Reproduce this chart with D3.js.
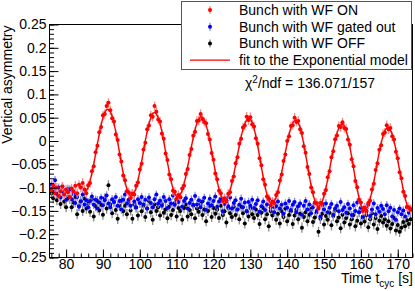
<!DOCTYPE html>
<html><head><meta charset="utf-8">
<script src="https://cdn.jsdelivr.net/npm/d3@7"></script>
<style>
body{margin:0;background:#fff}
svg{display:block}
text{font-family:"Liberation Sans",Arial,Helvetica,sans-serif;fill:#000}
</style>
</head><body>
<svg id="c" width="415" height="291"></svg>
<script>
// ---- data ----
const tStart = 76.0, tStep = 0.5;      // time grid of the measured points [s]
const fitStart = 85.0, fitStep = 0.5;  // sampling of the fitted curve [s]

const seriesNames = ["Bunch with WF ON", "Bunch with WF gated out", "Bunch with WF OFF", "fit to the Exponential model"];
const fitLabel = "136.071/157";

const redValues = [
 -0.105,-0.095,-0.112,-0.100,-0.118,-0.108,-0.098,-0.115,-0.104,-0.110,
 -0.120,-0.102,-0.108,-0.096,-0.112,-0.094,-0.100,-0.090,
 -0.104,-0.112,-0.095,-0.090,-0.065,-0.054,-0.024,-0.010,0.019,0.030,
 0.055,0.058,0.075,0.082,0.066,0.049,0.042,0.014,0.002,-0.029,
 -0.044,-0.074,-0.084,-0.108,-0.110,-0.123,-0.113,-0.115,-0.096,-0.089,
 -0.061,-0.049,-0.018,-0.004,0.025,0.033,0.055,0.052,0.075,0.063,
 0.046,0.042,0.016,0.005,-0.027,-0.041,-0.072,-0.082,-0.107,-0.109,
 -0.124,-0.116,-0.120,-0.102,-0.096,-0.071,-0.060,-0.030,-0.017,0.011,
 0.020,0.043,0.044,0.058,0.047,0.041,0.038,0.015,0.003,-0.026,
 -0.040,-0.070,-0.082,-0.107,-0.112,-0.129,-0.123,-0.130,-0.113,-0.110,
 -0.086,-0.076,-0.048,-0.035,-0.006,0.005,0.029,0.033,0.052,0.045,
 0.051,0.036,0.031,0.006,-0.006,-0.037,-0.052,-0.082,-0.094,-0.119,
 -0.123,-0.138,-0.130,-0.133,-0.116,-0.110,-0.085,-0.072,-0.043,-0.029,
 0.000,0.010,0.032,0.034,0.050,0.041,0.043,0.025,0.017,-0.011,
 -0.025,-0.056,-0.071,-0.100,-0.110,-0.132,-0.133,-0.145,-0.133,-0.134,
 -0.113,-0.105,-0.078,-0.065,-0.035,-0.022,0.004,0.012,0.032,0.030,
 0.040,0.028,0.026,0.003,-0.008,-0.039,-0.054,-0.086,-0.099,-0.126,
 -0.132,-0.150,-0.144,-0.149,-0.133,-0.128,-0.104,-0.092,-0.062,-0.048,
 -0.019,-0.009,0.015,0.018,0.034,0.025,0.028,0.010,0.003,-0.023,
 -0.037,-0.067,-0.080,-0.109,-0.118,-0.141,-0.142,-0.146
];

const blueValues = [
 -0.094,-0.105,-0.084,-0.113,-0.100,-0.121,-0.097,-0.110,-0.126,-0.103,
 -0.104,-0.125,-0.114,-0.133,-0.120,-0.141,-0.130,-0.115,-0.136,-0.127,
 -0.142,-0.129,-0.119,-0.137,-0.126,-0.145,-0.132,-0.122,-0.138,-0.127,
 -0.117,-0.134,-0.142,-0.125,-0.131,-0.120,-0.139,-0.129,-0.147,-0.126,
 -0.115,-0.134,-0.126,-0.139,-0.112,-0.130,-0.142,-0.125,-0.133,-0.120,
 -0.136,-0.126,-0.145,-0.121,-0.133,-0.142,-0.125,-0.115,-0.134,-0.128,
 -0.139,-0.120,-0.129,-0.144,-0.125,-0.134,-0.117,-0.137,-0.126,-0.131,
 -0.121,-0.141,-0.129,-0.123,-0.145,-0.133,-0.126,-0.137,-0.118,-0.136,
 -0.127,-0.142,-0.130,-0.122,-0.148,-0.134,-0.124,-0.138,-0.129,-0.119,
 -0.141,-0.130,-0.124,-0.151,-0.135,-0.127,-0.140,-0.121,-0.145,-0.133,
 -0.127,-0.147,-0.137,-0.124,-0.142,-0.132,-0.151,-0.131,-0.139,-0.126,
 -0.144,-0.135,-0.127,-0.152,-0.140,-0.130,-0.148,-0.136,-0.125,-0.143,
 -0.132,-0.153,-0.140,-0.130,-0.145,-0.137,-0.156,-0.134,-0.143,-0.129,
 -0.148,-0.137,-0.131,-0.153,-0.140,-0.134,-0.158,-0.139,-0.129,-0.147,
 -0.136,-0.155,-0.142,-0.133,-0.150,-0.141,-0.162,-0.138,-0.147,-0.134,
 -0.153,-0.143,-0.135,-0.158,-0.145,-0.139,-0.151,-0.131,-0.148,-0.142,
 -0.154,-0.135,-0.145,-0.159,-0.138,-0.150,-0.132,-0.153,-0.143,-0.162,
 -0.142,-0.152,-0.137,-0.161,-0.147,-0.134,-0.157,-0.144,-0.152,-0.139,
 -0.146,-0.157,-0.138,-0.151,-0.143,-0.162,-0.148,-0.169,-0.153,-0.145,
 -0.157,-0.149,-0.162,-0.142,-0.154,-0.147
];

const blackValues = [
 -0.112,-0.123,-0.102,-0.127,-0.117,-0.135,-0.108,-0.130,-0.142,-0.120,
 -0.124,-0.142,-0.132,-0.120,-0.157,-0.139,-0.129,-0.150,-0.124,-0.145,
 -0.134,-0.152,-0.125,-0.162,-0.140,-0.129,-0.149,-0.137,-0.158,-0.123,
 -0.145,-0.095,-0.136,-0.155,-0.131,-0.148,-0.167,-0.139,-0.128,-0.151,
 -0.139,-0.157,-0.131,-0.149,-0.167,-0.136,-0.143,-0.160,-0.133,-0.151,
 -0.139,-0.163,-0.145,-0.129,-0.153,-0.169,-0.136,-0.150,-0.142,-0.160,
 -0.135,-0.154,-0.147,-0.166,-0.141,-0.159,-0.148,-0.133,-0.162,-0.144,
 -0.150,-0.169,-0.144,-0.136,-0.162,-0.148,-0.157,-0.139,-0.166,-0.145,
 -0.152,-0.135,-0.159,-0.147,-0.172,-0.150,-0.139,-0.163,-0.144,-0.156,
 -0.147,-0.165,-0.139,-0.159,-0.151,-0.175,-0.144,-0.155,-0.163,-0.141,
 -0.159,-0.147,-0.168,-0.141,-0.155,-0.177,-0.150,-0.162,-0.144,-0.157,
 -0.165,-0.147,-0.159,-0.178,-0.154,-0.144,-0.168,-0.157,-0.183,-0.150,
 -0.160,-0.142,-0.169,-0.156,-0.177,-0.151,-0.163,-0.145,-0.172,-0.159,
 -0.151,-0.178,-0.160,-0.147,-0.168,-0.156,-0.186,-0.163,-0.153,-0.172,
 -0.158,-0.146,-0.174,-0.164,-0.153,-0.195,-0.167,-0.156,-0.179,-0.161,
 -0.169,-0.154,-0.181,-0.161,-0.149,-0.172,-0.164,-0.187,-0.158,-0.175,
 -0.165,-0.155,-0.179,-0.168,-0.159,-0.183,-0.171,-0.153,-0.177,-0.164,
 -0.173,-0.159,-0.185,-0.168,-0.155,-0.179,-0.165,-0.189,-0.171,-0.161,
 -0.175,-0.168,-0.182,-0.172,-0.188,-0.178,-0.165,-0.192,-0.180,-0.195,
 -0.186,-0.174,-0.183,-0.170,-0.178,-0.168
];

const fitValues = [
 -0.110,-0.107,-0.099,-0.086,-0.069,-0.050,-0.028,-0.006,0.015,0.034,
 0.050,0.061,0.067,0.068,0.063,0.053,0.038,0.019,-0.002,-0.025,
 -0.048,-0.069,-0.088,-0.103,-0.113,-0.118,-0.117,-0.111,-0.100,-0.085,
 -0.065,-0.044,-0.022,0.000,0.020,0.037,0.050,0.058,0.061,0.058,
 0.050,0.037,0.020,0.000,-0.023,-0.045,-0.067,-0.086,-0.102,-0.113,
 -0.119,-0.120,-0.115,-0.106,-0.092,-0.075,-0.055,-0.034,-0.013,0.007,
 0.024,0.038,0.047,0.052,0.051,0.045,0.034,0.019,-0.001,-0.022,
 -0.044,-0.066,-0.086,-0.103,-0.116,-0.124,-0.127,-0.125,-0.117,-0.106,
 -0.090,-0.072,-0.052,-0.031,-0.010,0.009,0.025,0.037,0.045,0.049,
 0.047,0.040,0.027,0.010,-0.010,-0.033,-0.056,-0.078,-0.098,-0.115,
 -0.127,-0.133,-0.134,-0.129,-0.120,-0.106,-0.089,-0.068,-0.047,-0.025,
 -0.004,0.014,0.028,0.038,0.044,0.045,0.039,0.029,0.013,-0.007,
 -0.029,-0.052,-0.075,-0.096,-0.114,-0.128,-0.137,-0.140,-0.137,-0.130,
 -0.117,-0.101,-0.082,-0.061,-0.039,-0.018,0.000,0.016,0.028,0.034,
 0.036,0.032,0.022,0.007,-0.012,-0.035,-0.058,-0.082,-0.103,-0.122,
 -0.136,-0.145,-0.148,-0.145,-0.137,-0.124,-0.108,-0.088,-0.066,-0.044,
 -0.023,-0.005,0.011,0.022,0.028,0.029,0.024,0.014,-0.001,-0.019,
 -0.041,-0.063,-0.084,-0.105,-0.122,-0.137,-0.146,-0.150,-0.149
];

const redErr = 0.010, blueErr = 0.009, blackErr = 0.011;

const xTicks = [80, 90, 100, 110, 120, 130, 140, 150, 160, 170];
const xMinorTicks = d3.range(76, 174.01, 2);
const yTicks = [0.25, 0.2, 0.15, 0.1, 0.05, 0, -0.05, -0.1, -0.15, -0.2, -0.25];
const yTickLabels = ["0.25","0.2","0.15","0.1","0.05","0","\u22120.05","\u22120.1","\u22120.15","\u22120.2","\u22120.25"];
const yMinorTicks = d3.range(-25, 25.01, 1).map(d => d / 100);

// ---- layout ----
const L = 49.5, R = 412.5, T = 24.5, B = 257.5;
const svg = d3.select("#c");
const x = d3.scaleLinear().domain([75.5, 174]).range([L, R]);
const y = d3.scaleLinear().domain([-0.25, 0.25]).range([B, T]);

const toPts = (vals, t0, dt) => vals.map((v, i) => ({t: t0 + i * dt, v}));

const colors = {red: "#ff0000", blue: "#0000ff", black: "#000000"};
const errColors = {red: "#ff8a8a", blue: "#8a8aff", black: "#8c8c8c"};

svg.append("clipPath").attr("id", "clip").append("rect")
  .attr("x", L).attr("y", T).attr("width", R - L).attr("height", B - T);

const plot = svg.append("g").attr("clip-path", "url(#clip)");

function drawSeries(vals, err, key) {
  const pts = toPts(vals, tStart, tStep);
  const g = plot.append("g");
  g.selectAll("line").data(pts).join("line")
    .attr("x1", d => x(d.t)).attr("x2", d => x(d.t))
    .attr("y1", d => y(d.v - err)).attr("y2", d => y(d.v + err))
    .attr("stroke", errColors[key]).attr("stroke-width", 1.3);
  g.selectAll("circle").data(pts).join("circle")
    .attr("cx", d => x(d.t)).attr("cy", d => y(d.v)).attr("r", 2)
    .attr("fill", colors[key]);
}
drawSeries(blackValues, blackErr, "black");
drawSeries(blueValues, blueErr, "blue");
drawSeries(redValues, redErr, "red");

const fitPts = toPts(fitValues, fitStart, fitStep);
plot.append("path").datum(fitPts)
  .attr("fill", "none").attr("stroke", "#ff0000").attr("stroke-width", 1.4)
  .attr("d", d3.line().x(d => x(d.t)).y(d => y(d.v)).curve(d3.curveCatmullRom));

// ---- axes ----
const yAxis = svg.append("g").attr("transform", `translate(${L},0)`)
  .call(d3.axisLeft(y).tickValues(yTicks).tickSize(-9).tickPadding(3)
        .tickFormat((d, i) => yTickLabels[i]));
yAxis.select(".domain").remove();
yAxis.selectAll("text").attr("font-size", 14).style("font-family", '"Liberation Sans",Arial,sans-serif');
const yMinor = svg.append("g").attr("transform", `translate(${L},0)`)
  .call(d3.axisLeft(y).tickValues(yMinorTicks).tickSize(-4.5).tickFormat(""));
yMinor.select(".domain").remove();

const xAxis = svg.append("g").attr("transform", `translate(0,${B})`)
  .call(d3.axisBottom(x).tickValues(xTicks).tickSize(-8).tickPadding(2));
xAxis.select(".domain").remove();
xAxis.selectAll("text").attr("font-size", 14).style("font-family", '"Liberation Sans",Arial,sans-serif');
const xMinor = svg.append("g").attr("transform", `translate(0,${B})`)
  .call(d3.axisBottom(x).tickValues(xMinorTicks).tickSize(-4).tickFormat(""));
xMinor.select(".domain").remove();
svg.selectAll(".tick line").attr("stroke", "#000");

svg.append("rect").attr("x", L).attr("y", T).attr("width", R - L).attr("height", B - T)
  .attr("fill", "none").attr("stroke", "#000").attr("stroke-width", 1);

svg.append("text").attr("transform", `translate(12,${T + 1}) rotate(-90)`)
  .attr("text-anchor", "end").attr("font-size", 14).text("Vertical asymmetry");

const xt = svg.append("text").attr("x", R + 0.5).attr("y", 283)
  .attr("text-anchor", "end").attr("font-size", 14);
xt.append("tspan").text("Time t");
xt.append("tspan").attr("font-size", 10).attr("dy", 3.5).text("cyc");
xt.append("tspan").attr("dy", -3.5).text(" [s]");

// ---- legend ----
const lg = svg.append("g");
lg.append("rect").attr("x", 181.5).attr("y", 1.5).attr("width", 230).attr("height", 68)
  .attr("fill", "#fff").attr("stroke", "#555").attr("stroke-width", 1);
const legendKeys = ["red", "blue", "black"];
const rowBase = [15, 31.7, 48.4, 65.1];
legendKeys.forEach((k, i) => {
  const cy = rowBase[i] - 5;
  lg.append("line").attr("x1", 210).attr("x2", 210).attr("y1", cy - 4).attr("y2", cy + 4)
    .attr("stroke", errColors[k]).attr("stroke-width", 1.3);
  lg.append("circle").attr("cx", 210).attr("cy", cy).attr("r", 2).attr("fill", colors[k]);
});
lg.append("line").attr("x1", 190).attr("x2", 230).attr("y1", rowBase[3] - 5).attr("y2", rowBase[3] - 5)
  .attr("stroke", "#ff0000").attr("stroke-width", 1.4);
seriesNames.forEach((s, i) => {
  lg.append("text").attr("x", 239).attr("y", rowBase[i]).attr("font-size", 14).text(s);
});

const ct = svg.append("text").attr("x", 310).attr("y", 88).attr("text-anchor", "middle").attr("font-size", 14);
ct.append("tspan").text("\u03c7");
ct.append("tspan").attr("font-size", 10).attr("dy", -5).text("2");
ct.append("tspan").attr("dy", 5).text("/ndf = " + fitLabel);
</script>
</body></html>
